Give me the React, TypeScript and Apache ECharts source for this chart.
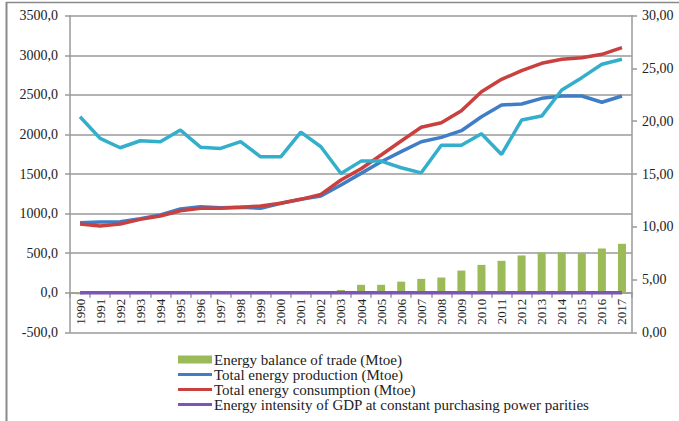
import React, { useEffect, useRef } from "react";
import * as echarts from "echarts";

const years = [
  "1990", "1991", "1992", "1993", "1994", "1995", "1996", "1997", "1998", "1999",
  "2000", "2001", "2002", "2003", "2004", "2005", "2006", "2007", "2008", "2009",
  "2010", "2011", "2012", "2013", "2014", "2015", "2016", "2017",
];

const tradeBalance = [
  -20, -15, -5, -5, -5, -5, -5, -5, -5, 0,
  0, 0, 5, 35, 100, 100, 140, 175, 192, 280,
  352, 403, 471, 509, 509, 500, 559, 618,
];

const production = [
  885, 893, 897, 935, 982, 1058, 1087, 1074, 1079, 1066,
  1130, 1180, 1222, 1361, 1508, 1655, 1782, 1908, 1963, 2047,
  2224, 2372, 2384, 2456, 2485, 2485, 2406, 2485,
];

const consumption = [
  868, 843, 868, 927, 969, 1036, 1066, 1066, 1079, 1096,
  1130, 1180, 1243, 1424, 1567, 1740, 1917, 2090, 2148, 2300,
  2540, 2696, 2805, 2899, 2949, 2970, 3012, 3096,
];

const intensity = [
  0.24, 0.24, 0.23, 0.23, 0.22, 0.22, 0.21, 0.21, 0.2, 0.2,
  0.19, 0.19, 0.18, 0.18, 0.17, 0.17, 0.16, 0.16, 0.15, 0.15,
  0.15, 0.14, 0.14, 0.14, 0.13, 0.13, 0.13, 0.13,
];

const rightSeries = [
  20.43, 18.37, 17.49, 18.15, 18.06, 19.16, 17.54, 17.42, 18.06, 16.63,
  16.63, 18.97, 17.58, 15.05, 16.22, 16.22, 15.59, 15.11, 17.73, 17.73,
  18.82, 16.85, 20.11, 20.49, 22.96, 24.13, 25.4, 25.87,
];

const names = [
  "Energy balance of trade (Mtoe)",
  "Total energy production (Mtoe)",
  "Total energy consumption (Mtoe)",
  "Energy intensity of GDP at constant purchasing power parities",
];

const FONT = "'Liberation Serif', 'Times New Roman', serif";
const TXT = "#222";
const GRID = "#9a9a9a";
const LINE_ICON = "path://M0,0 M0,2.5 L34,2.5 L34,5.5 L0,5.5 Z M34,8";

export default function App() {
  const ref = useRef<HTMLDivElement>(null);
  useEffect(() => {
    if (!ref.current) return;
    const chart = echarts.init(ref.current, null, { renderer: "svg" });
    chart.setOption({
      animation: false,
      backgroundColor: "#fff",
      textStyle: { fontFamily: FONT },
      grid: { left: 70, top: 15.7, width: 562, height: 316.6, containLabel: false },
      legend: {
        orient: "vertical",
        left: 173,
        top: 347,
        itemWidth: 34,
        itemHeight: 8,
        itemGap: 0,
        data: [
          { name: names[0], icon: "rect" },
          { name: names[1], icon: LINE_ICON },
          { name: names[2], icon: LINE_ICON },
          { name: names[3], icon: LINE_ICON },
        ],
        textStyle: { fontFamily: FONT, fontSize: 15, color: TXT, lineHeight: 15, padding: [0, 0, 0, -3] },
      },
      xAxis: {
        type: "category",
        data: years,
        boundaryGap: true,
        offset: -39.6,
        axisLine: { onZero: false, lineStyle: { color: GRID, width: 1.5 } },
        axisTick: { show: true, length: 5, lineStyle: { color: GRID, width: 1.5 } },
        axisLabel: { rotate: 90, fontSize: 13, color: TXT, fontFamily: FONT, margin: 6 },
      },
      yAxis: [
        {
          type: "value",
          min: -500,
          max: 3500,
          interval: 500,
          axisLine: { show: true, lineStyle: { color: GRID, width: 1.5 } },
          axisTick: { show: true, length: 5, lineStyle: { color: GRID, width: 1.5 } },
          splitLine: { show: true, lineStyle: { color: GRID, width: 1.5 } },
          axisLabel: {
            fontSize: 14,
            color: TXT,
            fontFamily: FONT,
            margin: 12,
            formatter: (v: number) => v.toFixed(1).replace(".", ","),
          },
        },
        {
          type: "value",
          min: 0,
          max: 30,
          interval: 5,
          position: "right",
          axisLine: { show: true, lineStyle: { color: GRID, width: 1.5 } },
          axisTick: { show: true, length: 5, lineStyle: { color: GRID, width: 1.5 } },
          splitLine: { show: false },
          axisLabel: {
            fontSize: 14,
            color: TXT,
            fontFamily: FONT,
            margin: 10,
            formatter: (v: number) => v.toFixed(2).replace(".", ","),
          },
        },
      ],
      series: [
        {
          name: names[0],
          type: "bar",
          data: tradeBalance,
          barWidth: 8,
          itemStyle: { color: "#9BBB59" },
          yAxisIndex: 0,
          z: 2,
        },
        {
          name: names[1],
          type: "line",
          data: production,
          symbol: "none",
          lineStyle: { color: "#3F7DC6", width: 3.5 },
          itemStyle: { color: "#3F7DC6" },
          yAxisIndex: 0,
          z: 4,
        },
        {
          name: names[2],
          type: "line",
          data: consumption,
          symbol: "none",
          lineStyle: { color: "#C9403E", width: 3.5 },
          itemStyle: { color: "#C9403E" },
          yAxisIndex: 0,
          z: 5,
        },
        {
          name: names[3],
          type: "line",
          data: intensity,
          symbol: "none",
          lineStyle: { color: "#7D55B4", width: 3.5 },
          itemStyle: { color: "#7D55B4" },
          yAxisIndex: 0,
          z: 3,
        },
        {
          name: "Right axis series",
          type: "line",
          data: rightSeries,
          symbol: "none",
          lineStyle: { color: "#33AECB", width: 3.5 },
          itemStyle: { color: "#33AECB" },
          yAxisIndex: 1,
          z: 6,
        },
      ],
      graphic: [
        { type: "line", shape: { x1: 6, y1: 2.5, x2: 679, y2: 2.5 }, style: { stroke: "#8a8a8a", lineWidth: 1.5 } },
        { type: "line", shape: { x1: 6.5, y1: 2, x2: 6.5, y2: 421 }, style: { stroke: "#8a8a8a", lineWidth: 2 } },
      ],
    });
    return () => chart.dispose();
  }, []);
  return (
    <div
      ref={ref}
      style={{ position: "fixed", left: 0, top: 0, width: 679, height: 421, background: "#fff" }}
    />
  );
}
